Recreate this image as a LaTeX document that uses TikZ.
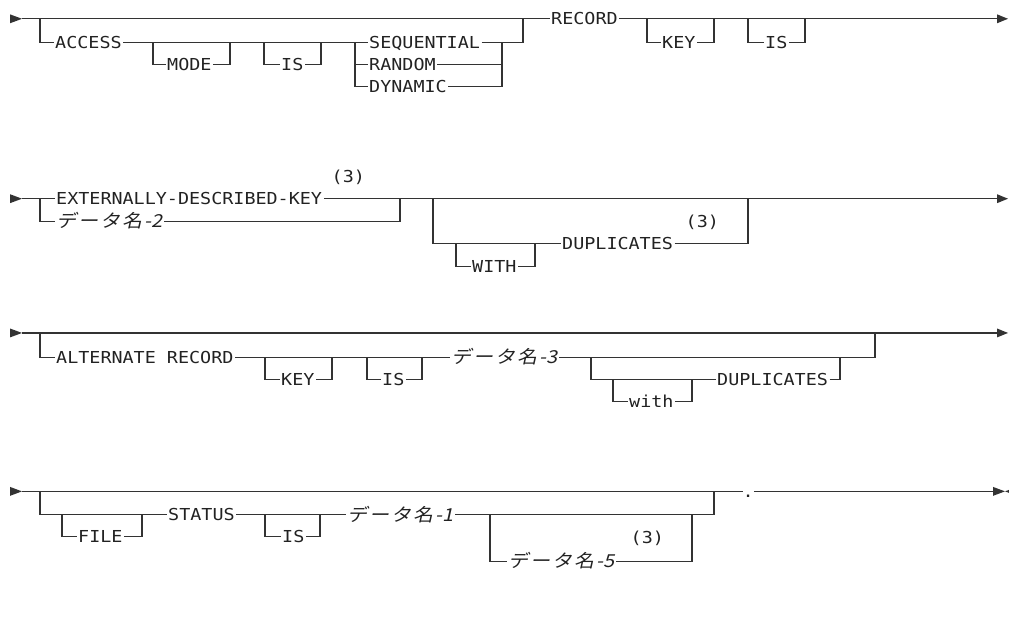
\documentclass[tikz,border=0pt]{standalone}
\usepackage{fontspec}
\newfontfamily\kwf{DejaVu Sans Mono}
\newfontfamily\jpf[FakeSlant=0.2]{Noto Sans CJK JP}
\definecolor{linec}{HTML}{333333}
\definecolor{txtc}{HTML}{222222}
\newcommand\jplab[1]{\makebox[106pt][s]{デ\hfill ー\hfill タ\hfill 名\hfill -#1}}
\begin{document}
\begin{tikzpicture}[x=1pt,y=-1pt,yscale=0.895,
  every node/.append style={transform shape},
  rail/.style={draw=linec,line width=1.1pt,line join=miter},
  kw/.style={anchor=west,inner xsep=1.5pt,inner ysep=0pt,text height=13.4pt,text depth=0pt,font={\kwf\fontsize{18.4}{20}\selectfont},text=txtc},
  jp/.style={anchor=west,inner xsep=1.5pt,inner ysep=0pt,text height=15.2pt,text depth=0pt,font={\jpf\fontsize{20}{22}\selectfont},text=txtc},
  tri/.style={fill=linec}]
\useasboundingbox (0,0) rectangle (1009,705.03);

% ---------------- Row 1 ----------------
\coordinate (r1s) at (22,21);
\coordinate (r1e) at (997,21);
\coordinate (b1) at (40,21);
\node[kw] (access) at (53.5,47) {ACCESS};
\node[kw] (mode) at (165.5,72) {MODE};
\node[kw] (is1) at (279.5,72) {IS};
\node[kw] (seq) at (367.5,47) {SEQUENTIAL};
\node[kw] (ran) at (367.5,72) {RANDOM};
\node[kw] (dyn) at (367.5,97) {DYNAMIC};
\node[kw] (rec) at (549.5,21) {RECORD};
\node[kw] (key1) at (660.5,47) {KEY};
\node[kw] (is2) at (763.5,47) {IS};
\coordinate (m1l) at (153,47); \coordinate (m1r) at (230,47);
\coordinate (i1l) at (264,47); \coordinate (i1r) at (321,47);
\coordinate (cl) at (355,47);  \coordinate (cr) at (502,47);
\coordinate (j1) at (523,47);
\coordinate (k1l) at (647,21); \coordinate (k1r) at (714,21);
\coordinate (i2l) at (748,21); \coordinate (i2r) at (805,21);
\fill[tri] (r1s) -- ++(-12,-5) -- ++(0,10) -- cycle;
\draw[rail] (r1s) -- (rec.west);
\draw[rail] (rec.east) -- (r1e);
\fill[tri] (r1e) -- ++(0,-5) -- ++(11,5) -- ++(-11,5) -- cycle;
\draw[rail] (b1) |- (access.west);
\draw[rail] (access.east) -- (seq.west);
\draw[rail] (m1l) |- (mode.west);
\draw[rail] (mode.east) -| (m1r);
\draw[rail] (i1l) |- (is1.west);
\draw[rail] (is1.east) -| (i1r);
\draw[rail] (cl) |- (dyn.west);
\draw[rail] (cl |- ran.west) -- (ran.west);
\draw[rail] (dyn.east) -| (cr);
\draw[rail] (ran.east) -- (ran.east -| cr);
\draw[rail] (seq.east) -- (j1) -- (j1 |- b1);
\draw[rail] (k1l) |- (key1.west);
\draw[rail] (key1.east) -| (k1r);
\draw[rail] (i2l) |- (is2.west);
\draw[rail] (is2.east) -| (i2r);

% ---------------- Row 2 ----------------
\coordinate (r2s) at (22,222);
\coordinate (r2e) at (997,222);
\coordinate (b2) at (40,222);
\node[kw] (ext) at (54.5,222) {EXTERNALLY-DESCRIBED-KEY};
\node[kw] (n2a) at (330,197) {(3)};
\node[jp] (d2) at (55,247) {\jplab{2}};
\node[kw] (dup2) at (560.5,272) {DUPLICATES};
\node[kw] (with2) at (470.5,298) {WITH};
\node[kw] (n2b) at (684,248) {(3)};
\coordinate (c2r) at (400,222);
\coordinate (p2l) at (433,222); \coordinate (p2r) at (748,222);
\coordinate (w2l) at (456,272); \coordinate (w2r) at (535,272);
\fill[tri] (r2s) -- ++(-12,-5) -- ++(0,10) -- cycle;
\draw[rail] (r2s) -- (ext.west);
\draw[rail] (ext.east) -- (r2e);
\fill[tri] (r2e) -- ++(0,-5) -- ++(11,5) -- ++(-11,5) -- cycle;
\draw[rail] (b2) |- (d2.west);
\draw[rail] (d2.east) -| (c2r);
\draw[rail] (p2l) |- (dup2.west);
\draw[rail] (dup2.east) -| (p2r);
\draw[rail] (w2l) |- (with2.west);
\draw[rail] (with2.east) -| (w2r);

% ---------------- Row 3 ----------------
\coordinate (r3s) at (22,372);
\coordinate (r3e) at (997,372);
\coordinate (b3) at (40,372);
\node[kw] (alt) at (54.5,399) {ALTERNATE RECORD};
\node[kw] (key3) at (279.5,424) {KEY};
\node[kw] (is3) at (380.5,424) {IS};
\node[jp] (d3) at (450,399) {\jplab{3}};
\node[kw] (dup3) at (715.5,424) {DUPLICATES};
\node[kw] (with3) at (627.5,449) {with};
\coordinate (k3l) at (265,399); \coordinate (k3r) at (332,399);
\coordinate (i3l) at (367,399); \coordinate (i3r) at (422,399);
\coordinate (o3r) at (875,372);
\coordinate (p3l) at (591,399); \coordinate (p3r) at (840,399);
\coordinate (w3l) at (613,424); \coordinate (w3r) at (692,424);
\fill[tri] (r3s) -- ++(-12,-5) -- ++(0,10) -- cycle;
\draw[rail] (r3s) -- (r3e);
\fill[tri] (r3e) -- ++(0,-5) -- ++(11,5) -- ++(-11,5) -- cycle;
\draw[rail] (b3) |- (alt.west);
\draw[rail] (alt.east) -- (d3.west);
\draw[rail] (k3l) |- (key3.west);
\draw[rail] (key3.east) -| (k3r);
\draw[rail] (i3l) |- (is3.west);
\draw[rail] (is3.east) -| (i3r);
\draw[rail] (d3.east) -| (o3r);
\draw[rail] (p3l) |- (dup3.west);
\draw[rail] (dup3.east) -| (p3r);
\draw[rail] (w3l) |- (with3.west);
\draw[rail] (with3.east) -| (w3r);

% ---------------- Row 4 ----------------
\coordinate (r4s) at (22,549);
\coordinate (r4e) at (993,549);
\coordinate (b4) at (40,549);
\node[kw] (file) at (76.5,599) {FILE};
\node[kw] (status) at (166.5,575) {STATUS};
\node[kw] (is4) at (280.5,599) {IS};
\node[jp] (d1) at (346,575) {\jplab{1}};
\node[jp] (d5) at (507,627) {\jplab{5}};
\node[kw] (n4) at (629,600) {(3)};
\node[kw,inner xsep=0pt] (dot) at (742.5,549) {.};
\coordinate (f4l) at (62,575);  \coordinate (f4r) at (142,575);
\coordinate (i4l) at (265,575); \coordinate (i4r) at (320,575);
\coordinate (o4r) at (714,549);
\coordinate (q4l) at (490,575); \coordinate (q4r) at (692,575);
\fill[tri] (r4s) -- ++(-12,-5) -- ++(0,10) -- cycle;
\draw[rail] (r4s) -- (dot.west);
\draw[rail] (dot.east) -- (r4e);
\fill[tri] (r4e) -- ++(0,-5) -- ++(12,5) -- ++(-12,5) -- cycle;
\fill[tri] (1005,549) -- (1017,544) -- (1017,554) -- cycle;
\draw[rail] (b4) |- (status.west);
\draw[rail] (f4l) |- (file.west);
\draw[rail] (file.east) -| (f4r);
\draw[rail] (status.east) -- (d1.west);
\draw[rail] (i4l) |- (is4.west);
\draw[rail] (is4.east) -| (i4r);
\draw[rail] (d1.east) -| (o4r);
\draw[rail] (q4l) |- (d5.west);
\draw[rail] (d5.east) -| (q4r);
\end{tikzpicture}
\end{document}
